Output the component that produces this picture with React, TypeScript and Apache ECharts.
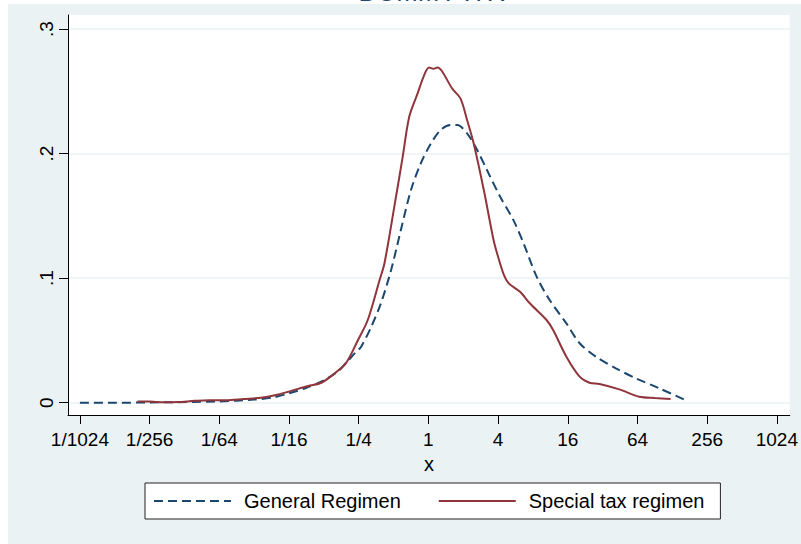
import { useEffect, useRef } from "react";
import * as echarts from "echarts";

// x positions are log2(x), since the axis is drawn on a base-2 log scale
const generalX = [
  -10, -9, -8, -7, -6, -5, -4.5, -4, -3.5, -3, -2.6, -2.36, -2.1, -1.93, -1.64,
  -1.36, -1.07, -0.79, -0.5, -0.22, 0.07, 0.35, 0.64, 0.83, 1.11, 1.4, 1.68,
  2.06, 2.44, 2.73, 3.11, 3.48, 3.96, 4.34, 4.81, 5.38, 5.95, 6.62, 7.33,
];
const generalY = [
  0, 0, 0.0002, 0.0005, 0.001, 0.0025, 0.004, 0.0075, 0.012, 0.018, 0.025,
  0.032, 0.04, 0.045, 0.061, 0.08, 0.1065, 0.1386, 0.1707, 0.192, 0.208,
  0.2189, 0.2229, 0.2229, 0.2162, 0.2028, 0.1868, 0.1653, 0.1466, 0.128, 0.101,
  0.0824, 0.0637, 0.0477, 0.0369, 0.0276, 0.0196, 0.0116, 0.0027,
];

const specialX = [
  -8.35, -8, -7.6, -7.2, -6.7, -6.3, -5.8, -5.3, -4.8, -4.4, -4.02, -3.45,
  -3.07, -2.69, -2.36, -2.02, -1.74, -1.4, -1.26, -0.98, -0.74, -0.55, -0.31,
  -0.12, 0.02, 0.15, 0.26, 0.4, 0.68, 0.92, 1.11, 1.3, 1.59, 1.87, 1.97, 2.16,
  2.3, 2.63, 2.91, 3.39, 3.58, 3.96, 4.34, 4.62, 4.91, 5.48, 6.05, 6.5, 6.95,
];
const specialY = [
  0.001, 0.001, 0.0003, 0.0005, 0.0015, 0.002, 0.002, 0.003, 0.004, 0.006,
  0.0088, 0.0134, 0.016, 0.0236, 0.032, 0.0503, 0.0664, 0.0985, 0.112, 0.157,
  0.197, 0.2295, 0.2483, 0.263, 0.269, 0.268, 0.269, 0.2657, 0.2523, 0.2443,
  0.227, 0.208, 0.1707, 0.1306, 0.12, 0.103, 0.096, 0.089, 0.0798, 0.0664,
  0.0583, 0.0369, 0.0209, 0.016, 0.015, 0.0107, 0.0048, 0.0038, 0.003,
];

const xTicks = [-10, -8, -6, -4, -2, 0, 2, 4, 6, 8, 10];
const yTicks = [0, 0.1, 0.2, 0.3];

const FONT = '"Liberation Sans", Arial, Helvetica, sans-serif';
const NAVY = "#1a476f";
const MAROON = "#90353b";
const BG = "#eaf2f3";

function xLabel(v: number) {
  const p = Math.round(v);
  return p < 0 ? `1/${2 ** -p}` : `${2 ** p}`;
}

function yLabel(v: number) {
  return v === 0 ? "0" : "." + Math.round(v * 10);
}

function buildOption(): echarts.EChartsOption {
  return {
    animation: false,
    backgroundColor: BG,
    textStyle: { fontFamily: FONT },
    graphic: [
      { type: "rect", shape: { x: 0, y: 0, width: 801, height: 4 }, style: { fill: "#fff" }, silent: true },
      { type: "rect", shape: { x: 0, y: 0, width: 8, height: 544 }, style: { fill: "#fff" }, silent: true },
      {
        // title sits mostly above the top edge; only the foot of its letters shows
        type: "text",
        x: 432,
        y: 5,
        silent: true,
        style: {
          text: "DUMMY ITR",
          fill: NAVY,
          font: `26px ${FONT}`,
          textAlign: "center",
          textVerticalAlign: "bottom",
        },
      },
    ],
    grid: {
      left: 68,
      top: 15,
      right: 6,
      bottom: 129,
      show: true,
      backgroundColor: "#fff",
      borderWidth: 0,
    },
    legend: {
      left: 145,
      top: 483,
      itemWidth: 77,
      itemHeight: 14,
      itemGap: 37,
      padding: [8, 16, 8, 8],
      borderColor: "#222",
      borderWidth: 1,
      backgroundColor: "#fff",
      itemStyle: { opacity: 0 },
      textStyle: { fontSize: 20, color: "#000", padding: [0, 0, 0, 8] },
      data: ["General Regimen", "Special tax regimen"],
    },
    xAxis: {
      type: "value",
      min: -10.342,
      max: 10.37,
      name: "x",
      nameLocation: "middle",
      nameGap: 29,
      nameTextStyle: { fontSize: 20, color: "#000" },
      axisLine: { show: true, onZero: false, lineStyle: { color: "#000", width: 1 } },
      axisTick: { show: true, length: 9, customValues: xTicks, lineStyle: { color: "#000" } },
      axisLabel: { customValues: xTicks, formatter: xLabel, fontSize: 19, color: "#000", margin: 15 },
      splitLine: { show: false },
    },
    yAxis: {
      type: "value",
      min: -0.00987,
      max: 0.31124,
      axisLine: { show: true, onZero: false, lineStyle: { color: "#000", width: 1 } },
      axisTick: { show: true, length: 9, customValues: yTicks, lineStyle: { color: "#000" } },
      axisLabel: {
        customValues: yTicks,
        formatter: yLabel,
        rotate: 90,
        fontSize: 19,
        color: "#000",
        margin: 12,
      },
      splitLine: { show: true, lineStyle: { color: BG, width: 1.5 } },
    },
    series: [
      {
        name: "General Regimen",
        type: "line",
        data: generalX.map((x, i) => [x, generalY[i]]),
        showSymbol: false,
        symbol: "none",
        smooth: 0.3,
        itemStyle: { color: NAVY },
        lineStyle: { color: NAVY, width: 2, type: [9, 5] },
      },
      {
        name: "Special tax regimen",
        type: "line",
        data: specialX.map((x, i) => [x, specialY[i]]),
        showSymbol: false,
        symbol: "none",
        smooth: 0.3,
        itemStyle: { color: MAROON },
        lineStyle: { color: MAROON, width: 2 },
      },
    ],
  };
}

export default function App() {
  const chartRef = useRef<HTMLDivElement>(null);

  useEffect(() => {
    if (!chartRef.current) return;
    const chart = echarts.init(chartRef.current, undefined, { renderer: "svg" });
    chart.setOption(buildOption());
    return () => chart.dispose();
  }, []);

  return (
    <div
      ref={chartRef}
      style={{ position: "absolute", left: 0, top: 0, width: 801, height: 544 }}
    />
  );
}
